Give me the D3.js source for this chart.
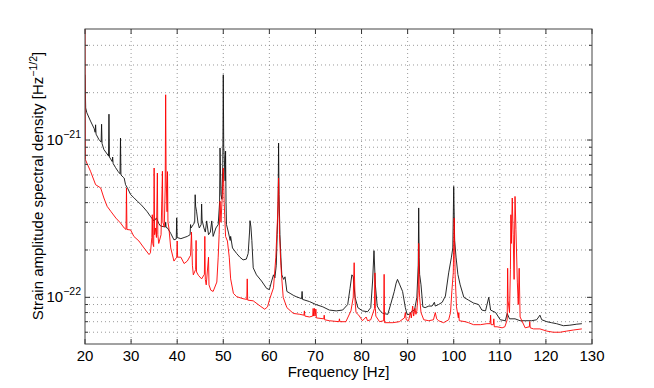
<!DOCTYPE html>
<html>
<script src='https://d3js.org/d3.v7.min.js'></script>
<style>
body {margin: 0; background: white;}
text {font-family: 'Liberation Sans', Arial, sans-serif; fill: black;}
.grid line {stroke: #808080; stroke-width: 0.8; stroke-dasharray: 1,3;}
</style>
<body>
<script>
// amplitudes in units of 1e-22 strain/sqrt(Hz)
var unit = 1e-22;

var blackFreq = [20.0,20.15,20.4,21.2,22.0,22.2,22.3,22.4,23.0,23.5,23.6,23.7,24.1,25.0,25.1,25.2,25.3,25.9,26.0,26.1,26.6,27.2,27.6,27.7,27.8,28.3,28.5,28.8,29.3,29.9,30.6,31.4,32.1,32.8,33.5,34.2,35.0,35.5,36.0,36.4,37.4,37.5,37.6,37.9,38.6,39.3,39.8,39.9,40.0,40.8,41.5,42.2,42.8,42.9,43.0,43.5,43.8,43.9,44.0,44.2,44.5,44.8,45.2,45.3,45.4,45.8,46.1,46.4,46.8,47.2,47.5,47.8,48.4,48.9,49.2,49.3,49.5,49.7,49.9,50.0,50.1,50.2,50.4,50.5,50.6,50.7,51.1,51.5,51.6,52.0,52.9,53.6,54.3,55.0,55.4,55.7,55.8,56.0,56.2,56.5,57.2,58.3,59.4,60.0,60.5,60.9,61.2,61.5,61.7,61.9,62.0,62.1,62.3,62.5,62.7,63.1,63.4,63.8,64.5,65.2,65.8,66.6,67.0,67.1,67.2,68.7,70.1,71.6,73.0,74.5,75.9,77.0,77.5,77.9,78.2,78.6,79.2,80.2,81.3,82.0,82.4,82.7,83.0,83.4,83.9,84.6,85.7,86.4,87.1,87.5,87.8,88.3,88.9,89.5,89.9,90.4,91.0,91.5,92.0,92.3,92.4,92.5,92.6,92.9,93.3,93.8,94.6,95.3,95.8,96.0,96.7,97.5,98.2,98.9,99.5,99.8,100.0,100.2,100.5,100.9,101.4,102.2,103.2,104.3,105.4,106.1,106.9,107.6,108.0,109.1,110.1,111.2,111.6,112.1,113.3,114.4,115.5,116.9,118.0,118.7,119.1,120.2,121.2,122.3,123.8,125.2,126.7,127.8];
var blackAmp = [26,16,14.9,13.2,11.8,11.2,12.5,10.9,10.1,9.7,12.6,9.5,8.7,8.0,7.9,14.6,7.8,7.3,7.8,7.1,6.7,6.3,6.1,10.3,6.0,5.8,5.73,5.2,4.9,4.5,4.3,4.07,3.9,3.7,3.5,3.27,3.05,3.2,2.95,2.84,2.8,3.0,2.78,2.76,2.55,2.32,2.35,3.2,2.4,2.36,2.4,2.44,2.5,2.9,2.76,2.9,3.0,4.49,3.8,3.53,3.0,2.76,2.9,3.92,3.1,2.76,2.6,3.06,2.5,2.6,3.06,2.44,2.76,2.9,4.0,8.9,4.5,4.2,7.0,26,9.0,8.06,5.5,8.5,4.0,2.9,2.6,2.3,2.44,2.06,1.9,1.8,1.73,1.75,1.9,2.6,3.07,2.8,2.3,1.54,1.39,1.27,1.14,1.12,1.27,1.39,1.33,1.6,2.5,4.0,9.56,4.5,2.5,1.8,1.39,1.3,1.35,1.09,1.06,1.03,1.01,0.99,0.98,1.09,0.97,0.94,0.90,0.87,0.83,0.82,0.83,0.90,1.14,1.39,1.35,1.0,0.86,0.82,0.81,0.86,1.27,1.98,1.2,0.88,0.83,0.79,0.78,0.92,1.09,1.23,1.30,1.2,1.09,0.86,0.776,0.78,0.82,0.83,1.0,1.6,3.7,1.8,1.4,1.2,0.87,0.86,0.88,0.88,0.93,0.88,0.9,0.93,1.02,1.43,1.8,2.06,5.07,2.3,1.8,1.4,1.2,1.0,0.96,0.92,0.9,0.83,0.82,1.0,0.83,0.80,0.72,0.71,0.79,0.73,0.73,0.71,0.71,0.71,0.72,0.77,0.72,0.70,0.69,0.68,0.66,0.665,0.675,0.68];

var redFreq = [20.0,20.1,20.4,21.2,22.3,23.4,24.1,24.8,25.6,26.7,27.7,28.5,28.9,29.0,29.1,29.9,30.6,31.7,32.8,33.9,34.2,34.5,34.6,34.7,34.9,35.0,35.1,35.3,35.5,35.7,35.8,36.0,36.5,36.8,36.9,37.2,37.4,37.5,37.6,37.8,37.9,38.0,38.2,38.6,39.3,39.9,40.0,40.1,40.8,41.5,42.2,42.9,43.1,43.3,43.5,44.0,44.1,44.2,44.6,45.3,45.9,46.0,46.1,46.3,46.8,46.9,47.3,47.8,48.6,48.9,49.1,49.3,49.5,49.8,50.0,50.2,50.5,50.9,51.3,51.6,52.2,52.9,54.3,55.1,55.2,55.3,56.5,58.0,59.0,59.6,60.1,60.9,61.4,61.8,62.0,62.2,62.5,62.7,63.0,63.8,65.2,66.6,67.5,67.6,67.7,68.7,69.4,69.5,69.6,69.8,69.9,70.1,70.2,71.8,71.9,72.0,73.0,75.1,75.2,75.3,76.6,77.7,78.2,78.4,78.6,78.8,79.4,80.2,81.0,81.3,82.0,82.8,82.9,83.0,83.1,83.9,84.8,84.9,85.0,86.8,88.2,89.3,89.5,89.7,90.2,90.6,90.8,91.1,91.3,91.6,91.8,92.0,92.3,92.4,92.5,92.6,92.9,93.5,94.6,95.6,96.0,96.3,96.7,97.8,98.9,99.3,99.6,99.9,100.1,100.3,100.6,101.0,101.1,101.2,102.5,103.2,104.3,105.8,107.2,107.9,108.0,108.1,108.6,108.7,108.8,109.4,110.5,111.1,111.6,111.7,111.8,112.1,112.3,112.4,112.5,112.7,112.9,113.1,113.3,113.5,113.8,114.0,114.2,114.4,115.5,116.4,116.5,116.6,117.3,118.7,120.2,121.6,123.1,124.5,126.0,127.8];
var redAmp = [60,7.5,7.14,6.33,5.2,4.96,4.28,3.79,3.52,3.19,2.97,2.76,2.7,4.96,2.7,2.68,2.44,2.28,2.06,1.87,1.92,2.4,3.35,2.2,2.1,6.64,2.5,2.76,2.4,6.17,2.5,2.2,2.5,6.33,3.0,2.8,5.0,19.4,6.0,3.5,6.3,3.0,2.76,2.06,1.70,1.8,2.28,1.8,1.8,1.64,1.7,1.85,2.6,1.6,1.39,1.5,2.3,1.45,1.38,1.31,1.4,2.44,1.3,1.20,1.8,1.2,1.11,1.09,1.25,1.8,2.5,4.08,3.0,4.5,6.64,4.0,2.44,2.28,1.8,1.31,1.06,1.01,0.98,0.97,1.31,0.96,0.95,0.88,0.84,0.87,0.98,1.15,1.8,3.35,5.73,2.5,1.6,1.31,1.0,0.86,0.79,0.78,0.77,0.82,0.76,0.75,0.76,0.85,0.76,0.85,0.76,0.84,0.74,0.73,0.77,0.72,0.71,0.70,0.73,0.70,0.70,0.82,1.0,1.66,0.95,0.80,0.77,0.71,0.75,0.71,0.72,0.85,1.43,0.85,0.76,0.70,0.71,1.40,0.69,0.69,0.70,0.74,0.80,0.72,0.71,0.80,0.74,0.88,0.76,0.85,0.78,0.82,1.1,2.2,1.2,1.0,0.80,0.72,0.71,0.72,0.80,0.73,0.71,0.69,0.72,0.80,1.1,1.43,3.19,1.4,0.87,0.74,0.8,0.71,0.70,0.69,0.67,0.67,0.68,0.68,0.77,0.67,0.67,0.73,0.65,0.65,0.64,0.65,0.72,1.53,0.95,0.80,1.5,3.35,2.2,4.28,2.5,1.3,4.38,2.7,1.25,0.9,1.53,0.75,0.64,0.65,0.70,0.64,0.63,0.63,0.61,0.60,0.60,0.61,0.62,0.63];

var xTicks = [20,30,40,50,60,70,80,90,100,110,120,130];
var yMajor = [1e-22, 1e-21];
var yMinor = [6e-23,7e-23,8e-23,9e-23,2e-22,3e-22,4e-22,5e-22,6e-22,7e-22,8e-22,9e-22,2e-21,3e-21,4e-21];
var yExp = ['\u221222', '\u221221'];

var L = 85, R = 592, T = 29, B = 344;
var x = d3.scaleLinear().domain([20,130]).range([L,R]);
var y = d3.scaleLog().domain([5.05e-23, 5.08e-21]).range([B,T]);

var svg = d3.select('body').append('svg')
.attr('width', 654)
.attr('height', 388);

svg.append('defs').append('clipPath').attr('id','plotclip')
.append('rect').attr('x',L).attr('y',T).attr('width',R-L).attr('height',B-T);

// grid
var grid = svg.append('g').attr('class','grid');
grid.selectAll('.vx').data(xTicks.slice(1,-1)).enter().append('line')
.attr('x1',function(d){return x(d);}).attr('x2',function(d){return x(d);})
.attr('y1',T).attr('y2',B);
grid.selectAll('.hy').data(yMajor.concat(yMinor)).enter().append('line')
.attr('x1',L).attr('x2',R)
.attr('y1',function(d){return y(d);}).attr('y2',function(d){return y(d);});

// curves
var line = d3.line()
.x(function(d){return x(d[0]);})
.y(function(d){return y(d[1]*unit);});

var redData = d3.zip(redFreq, redAmp);
var blackData = d3.zip(blackFreq, blackAmp);

var plot = svg.append('g').attr('clip-path','url(#plotclip)');
plot.append('path').datum(blackData)
.attr('d', line)
.attr('fill','none').attr('stroke','#111').attr('stroke-width',0.9);
plot.append('path').datum(redData)
.attr('d', line)
.attr('fill','none').attr('stroke','#ff0000').attr('stroke-width',0.9);

// ticks, inside on every side
var tk = svg.append('g').attr('stroke','#333').attr('stroke-width',1);
xTicks.forEach(function(t){
  tk.append('line').attr('x1',x(t)).attr('x2',x(t)).attr('y1',B).attr('y2',B-5);
  tk.append('line').attr('x1',x(t)).attr('x2',x(t)).attr('y1',T).attr('y2',T+5);
});
yMajor.forEach(function(t){
  tk.append('line').attr('x1',L).attr('x2',L+5).attr('y1',y(t)).attr('y2',y(t));
  tk.append('line').attr('x1',R).attr('x2',R-5).attr('y1',y(t)).attr('y2',y(t));
});
yMinor.forEach(function(t){
  tk.append('line').attr('x1',L).attr('x2',L+3).attr('y1',y(t)).attr('y2',y(t));
  tk.append('line').attr('x1',R).attr('x2',R-3).attr('y1',y(t)).attr('y2',y(t));
});

// frame
svg.append('rect')
.attr('x',L).attr('y',T).attr('width',R-L).attr('height',B-T)
.attr('fill','none').attr('stroke','#444').attr('stroke-width',1);

// x tick labels
svg.selectAll('.xl').data(xTicks).enter().append('text')
.attr('x',function(d){return x(d);})
.attr('y',361)
.style('text-anchor','middle')
.style('font-size','15px')
.text(function(d){return d;});

// y tick labels
yMajor.forEach(function(t,i){
  var lab = svg.append('text')
  .attr('x',81).attr('y',y(t)+5)
  .style('text-anchor','end')
  .style('font-size','15px');
  lab.append('tspan').text('10');
  lab.append('tspan').attr('dy',-7).style('font-size','10.5px').text(yExp[i]);
});

// axis labels
svg.append('text')
.attr('x',(L+R)/2).attr('y',377)
.style('text-anchor','middle')
.style('font-size','15px')
.text('Frequency [Hz]');

var yl = svg.append('text')
.attr('transform','translate(43,186)rotate(-90)')
.style('text-anchor','middle')
.style('font-size','15px');
yl.append('tspan').text('Strain amplitude spectral density [Hz');
yl.append('tspan').attr('dy',-6).style('font-size','10.5px').text('\u22121/2');
yl.append('tspan').attr('dy',6).text(']');
</script>
</body>
</html>
